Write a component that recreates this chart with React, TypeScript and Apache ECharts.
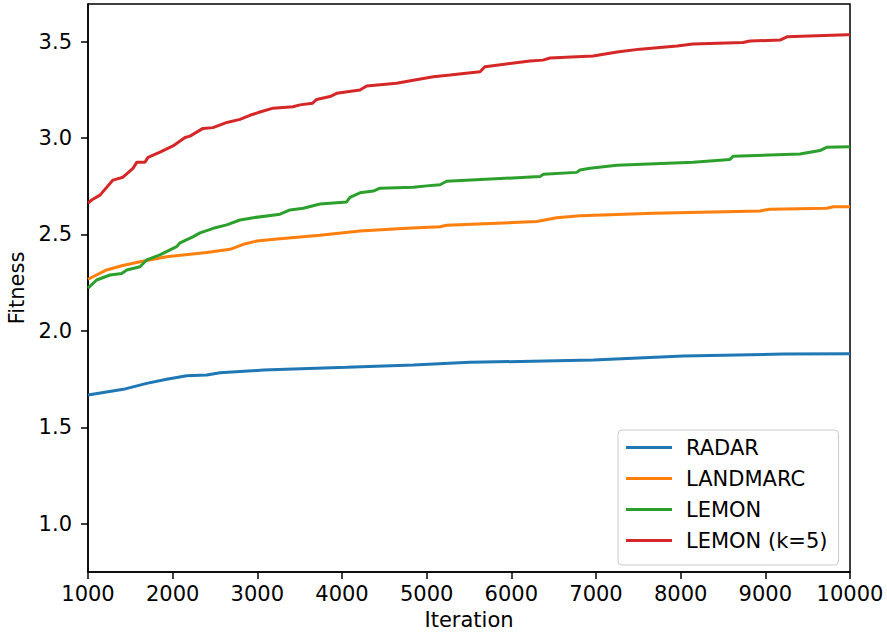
import React, { useEffect, useRef } from "react";
import * as echarts from "echarts";

const seriesNames = ["RADAR", "LANDMARC", "LEMON", "LEMON (k=5)"];
const seriesColors = ["#1f77b4", "#ff7f0e", "#2ca02c", "#d62728"];

const radarIter = [1000, 1417, 1693, 1929, 2165, 2402, 2559, 3071, 4055, 4842, 5512, 6968, 8031, 9213, 10000];
const radarFit = [1.668, 1.697, 1.728, 1.749, 1.768, 1.771, 1.783, 1.797, 1.811, 1.823, 1.837, 1.849, 1.87, 1.88, 1.882];

const landmarcIter = [1000, 1220, 1398, 1614, 1929, 2402, 2677, 2835, 2992, 3268, 3740, 4212, 4764, 5157, 5236, 6299, 6535, 6811, 7677, 8937, 9055, 9724, 9803, 10000];
const landmarcFit = [2.268, 2.316, 2.338, 2.359, 2.385, 2.406, 2.423, 2.449, 2.466, 2.478, 2.496, 2.518, 2.532, 2.54, 2.548, 2.567, 2.587, 2.597, 2.61, 2.622, 2.631, 2.636, 2.644, 2.644];

const lemonIter = [1000, 1102, 1260, 1398, 1457, 1614, 1693, 1850, 2047, 2087, 2244, 2323, 2480, 2638, 2795, 2953, 3268, 3386, 3543, 3740, 4055, 4094, 4212, 4370, 4449, 4842, 5000, 5157, 5236, 6338, 6378, 6771, 6811, 6929, 7244, 8149, 8582, 8622, 9409, 9645, 9724, 10000];
const lemonFit = [2.222, 2.264, 2.29, 2.298, 2.316, 2.333, 2.368, 2.394, 2.437, 2.457, 2.489, 2.508, 2.532, 2.55, 2.575, 2.587, 2.605, 2.627, 2.636, 2.658, 2.669, 2.692, 2.716, 2.725, 2.74, 2.745, 2.752, 2.758, 2.776, 2.8, 2.812, 2.822, 2.834, 2.843, 2.859, 2.874, 2.889, 2.906, 2.917, 2.935, 2.952, 2.955];

const lemonK5Iter = [1000, 1047, 1142, 1295, 1413, 1531, 1578, 1673, 1709, 1850, 2004, 2146, 2205, 2358, 2476, 2641, 2795, 2913, 3031, 3185, 3421, 3504, 3650, 3700, 3858, 3937, 4212, 4291, 4645, 4842, 5079, 5275, 5630, 5689, 6220, 6374, 6456, 6965, 7250, 7520, 7957, 8145, 8736, 8818, 9173, 9255, 9965, 10000];
const lemonK5Fit = [2.663, 2.68, 2.704, 2.782, 2.797, 2.843, 2.875, 2.875, 2.9, 2.927, 2.959, 3.003, 3.01, 3.05, 3.054, 3.081, 3.097, 3.118, 3.135, 3.155, 3.162, 3.172, 3.18, 3.2, 3.215, 3.232, 3.249, 3.27, 3.284, 3.3, 3.318, 3.327, 3.344, 3.37, 3.4, 3.404, 3.415, 3.425, 3.446, 3.461, 3.477, 3.488, 3.495, 3.503, 3.508, 3.525, 3.535, 3.535];

const yTickValues = [1.0, 1.5, 2.0, 2.5, 3.0, 3.5];

const seriesIters = [radarIter, landmarcIter, lemonIter, lemonK5Iter];
const seriesFits = [radarFit, landmarcFit, lemonFit, lemonK5Fit];

const FONT = "DejaVu Sans";
const FS = 21;

export default function App() {
  const ref = useRef<HTMLDivElement>(null);
  useEffect(() => {
    if (!ref.current) return;
    const chart = echarts.init(ref.current, null, { renderer: "svg" });
    const series = seriesNames.map((name, i) => ({
      name,
      type: "line",
      symbol: "none",
      showSymbol: false,
      data: seriesIters[i].map((x, j) => [x, seriesFits[i][j]]),
      lineStyle: { color: seriesColors[i], width: 3 },
      itemStyle: { color: seriesColors[i] },
      z: 2 + i,
    }));
    chart.setOption({
      animation: false,
      backgroundColor: "#ffffff",
      textStyle: { fontFamily: FONT },
      grid: {
        left: 88,
        right: 37,
        top: 4,
        bottom: 65,
        show: true,
        borderColor: "#000",
        borderWidth: 1.5,
        backgroundColor: "transparent",
        containLabel: false,
        outerBoundsMode: "none",
      },
      xAxis: {
        type: "value",
        min: 1000,
        max: 10000,
        interval: 1000,
        name: "Iteration",
        nameLocation: "middle",
        nameGap: 37,
        nameTextStyle: { fontSize: FS, color: "#000", fontFamily: FONT },
        axisLine: { show: true, onZero: false, lineStyle: { color: "#000", width: 1.5 } },
        axisTick: { show: true, inside: false, length: 7, lineStyle: { color: "#000", width: 1.5 } },
        axisLabel: {
          fontSize: FS,
          color: "#000",
          margin: 11,
          fontFamily: FONT,
          formatter: (v: number) => String(v),
        },
        splitLine: { show: false },
      },
      yAxis: {
        type: "value",
        min: 0.75,
        max: 3.695,
        name: "Fitness",
        nameLocation: "middle",
        nameGap: 60,
        nameTextStyle: { fontSize: FS, color: "#000", fontFamily: FONT },
        axisLine: { show: true, onZero: false, lineStyle: { color: "#000", width: 1.5 } },
        axisTick: {
          show: true,
          inside: false,
          length: 7,
          customValues: yTickValues,
          lineStyle: { color: "#000", width: 1.5 },
        },
        axisLabel: {
          fontSize: FS,
          color: "#000",
          margin: 16,
          fontFamily: FONT,
          customValues: yTickValues,
          formatter: (v: number) => v.toFixed(1),
        },
        splitLine: { show: false },
      },
      legend: {
        show: true,
        orient: "vertical",
        left: 618,
        top: 430,
        data: seriesNames,
        icon: "path://M0,0 L46,0 L46,3 L0,3 Z",
        itemWidth: 46,
        itemHeight: 3,
        itemGap: 10,
        padding: [7, 11, 14, 8],
        backgroundColor: "rgba(255,255,255,0.8)",
        borderColor: "#cccccc",
        borderWidth: 1,
        borderRadius: 4,
        textStyle: {
          fontSize: FS,
          color: "#000",
          fontFamily: FONT,
          lineHeight: 20,
          height: 20,
          padding: [0, 0, 0, 9],
        },
      },
      series,
    });
    return () => chart.dispose();
  }, []);
  return (
    <div
      ref={ref}
      style={{ position: "fixed", left: 0, top: 0, width: 887, height: 637 }}
    />
  );
}
